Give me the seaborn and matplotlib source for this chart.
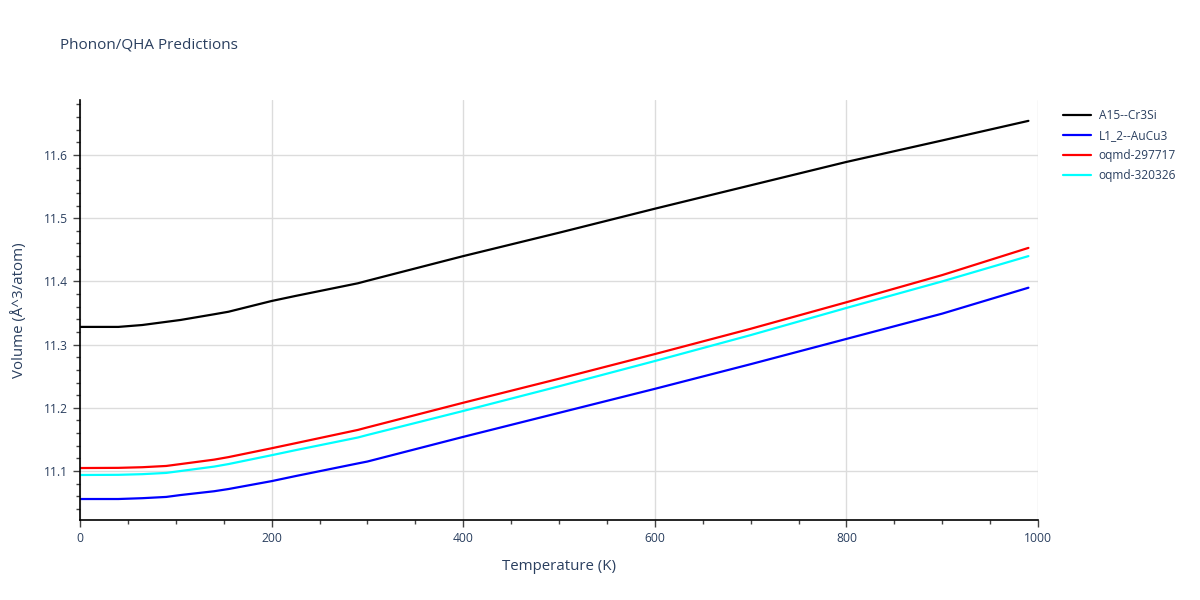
import matplotlib
matplotlib.use("Agg")
import matplotlib.pyplot as plt
from matplotlib.ticker import MultipleLocator
import seaborn as sns
import pandas as pd

temps = [0, 40, 65, 90, 105, 140, 155, 200, 225, 290, 300, 400, 500, 600, 700, 800, 900, 990]

a15 = [11.328, 11.328, 11.331, 11.336, 11.339, 11.348, 11.352, 11.369, 11.377, 11.397, 11.401, 11.440, 11.477, 11.515, 11.552, 11.589, 11.623, 11.654]
l12 = [11.0557, 11.0557, 11.057, 11.059, 11.062, 11.068, 11.0715, 11.084, 11.092, 11.112, 11.115, 11.154, 11.192, 11.230, 11.269, 11.309, 11.349, 11.390]
oq297 = [11.1047, 11.1050, 11.106, 11.108, 11.111, 11.118, 11.122, 11.136, 11.144, 11.165, 11.169, 11.208, 11.246, 11.285, 11.325, 11.367, 11.410, 11.453]
oq320 = [11.0937, 11.0940, 11.095, 11.097, 11.100, 11.107, 11.111, 11.125, 11.133, 11.153, 11.157, 11.195, 11.234, 11.274, 11.315, 11.358, 11.400, 11.440]

names = ["A15--Cr3Si", "L1_2--AuCu3", "oqmd-297717", "oqmd-320326"]
colors = ["#000000", "#0000ff", "#ff0000", "#00ffff"]

df = pd.concat([
    pd.DataFrame({"T": temps, "V": vals, "name": n})
    for n, vals in zip(names, [a15, l12, oq297, oq320])
])

sns.set_theme(style="white")
plt.rcParams["font.family"] = ["Open Sans", "DejaVu Sans"]
txt = "#2a3f5f"

fig = plt.figure(figsize=(12, 6), dpi=100)
ax = fig.add_axes([80/1200, 80/600, (1038-80)/1200, 420/600])

sns.lineplot(data=df, x="T", y="V", hue="name", palette=dict(zip(names, colors)),
             ax=ax, linewidth=1.6, legend=False, estimator=None, sort=False)

ax.set_xlim(0, 1000)
ax.set_ylim(11.0225, 11.687)
ax.xaxis.set_major_locator(MultipleLocator(200))
ax.xaxis.set_minor_locator(MultipleLocator(50))
ax.yaxis.set_major_locator(MultipleLocator(0.1))
ax.yaxis.set_minor_locator(MultipleLocator(0.02))
ax.grid(True, which="major", color="#dcdcdc", linewidth=1)
ax.set_axisbelow(True)
for s in ["top", "right"]:
    ax.spines[s].set_visible(False)
for s in ["left", "bottom"]:
    ax.spines[s].set_color("#000000")
    ax.spines[s].set_linewidth(1.2)
ax.tick_params(axis="both", which="major", direction="out", length=5, width=1, color="#444444",
               labelcolor=txt, labelsize=8.7, left=True, bottom=True)
ax.tick_params(axis="both", which="minor", direction="out", length=3, width=1, color="#444444",
               left=True, bottom=True)
ax.yaxis.set_major_formatter(matplotlib.ticker.FormatStrFormatter("%.1f"))

ax.set_xlabel("Temperature (K)", color=txt, fontsize=10.8, labelpad=10)
ax.set_ylabel("Volume (Å^3/atom)", color=txt, fontsize=10.8, labelpad=12)
fig.text(60/1200, 1-45/600, "Phonon/QHA Predictions", color=txt, fontsize=11, va="center", ha="left")

handles = [plt.Line2D([0], [0], color=c, lw=1.6) for c in colors]
leg = fig.legend(handles, names, loc="upper left", bbox_to_anchor=(1058/1200, 1-104/600),
                 frameon=False, fontsize=8.6, labelcolor=txt, handlelength=2.4,
                 handletextpad=0.6, labelspacing=0.6, borderaxespad=0)

fig.savefig("out.png", dpi=100)
